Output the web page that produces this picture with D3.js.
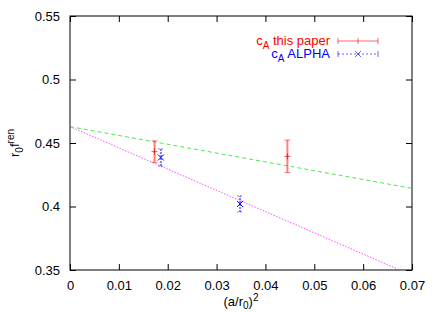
<!DOCTYPE html>
<html>
<head>
<meta charset="utf-8">
<script src="https://cdn.jsdelivr.net/npm/d3@7"></script>
<style>
  body { margin: 0; background: #fff; }
  svg { display: block; font-family: 'Liberation Sans', Arial, sans-serif; }
</style>
</head>
<body>
<div id="chart"></div>
<script>
// c_A this paper
const paperX = [0.0173, 0.0445];
const paperY = [0.4432, 0.4395];
const paperErr = [0.0085, 0.0128];

// c_A ALPHA
const alphaX = [0.0186, 0.0348];
const alphaY = [0.4386, 0.4020];
const alphaErr = [0.0068, 0.0063];

// fit lines (endpoints)
const fitPaperX = [0, 0.07];
const fitPaperY = [0.4629, 0.4143];
const fitAlphaX = [0, 0.0675];
const fitAlphaY = [0.4629, 0.35];

const xTicks = [0, 0.01, 0.02, 0.03, 0.04, 0.05, 0.06, 0.07];
const yTicks = [0.35, 0.4, 0.45, 0.5, 0.55];

const W = 436, H = 312;
const m = { left: 70, right: 24, top: 16, bottom: 42 };

const svg = d3.select('#chart').append('svg')
  .attr('width', W).attr('height', H);

const x = d3.scaleLinear().domain([0, 0.07]).range([m.left, W - m.right]);
const y = d3.scaleLinear().domain([0.35, 0.55]).range([H - m.bottom, m.top]);

svg.append('clipPath').attr('id', 'clip')
  .append('rect')
  .attr('x', m.left).attr('y', m.top)
  .attr('width', W - m.left - m.right).attr('height', H - m.top - m.bottom);

// axes with inward ticks, mirrored
const fmtX = d => d === 0 ? '0' : d3.format('.2f')(d);
const fmtY = d => d3.format('.2~f')(d);

function styleAxis(g) {
  g.select('.domain').remove();
  g.selectAll('line').attr('stroke', '#000');
  g.selectAll('text').attr('fill', '#000').style('font-size', '13px');
}

svg.append('g')
  .attr('transform', 'translate(0,' + (H - m.bottom) + ')')
  .call(d3.axisBottom(x).tickValues(xTicks).tickFormat(fmtX).tickSizeInner(-6).tickPadding(11))
  .call(styleAxis);
svg.append('g')
  .attr('transform', 'translate(0,' + m.top + ')')
  .call(d3.axisTop(x).tickValues(xTicks).tickFormat('').tickSizeInner(-6))
  .call(styleAxis);
svg.append('g')
  .attr('transform', 'translate(' + m.left + ',0)')
  .call(d3.axisLeft(y).tickValues(yTicks).tickFormat(fmtY).tickSizeInner(-6).tickPadding(10))
  .call(styleAxis);
svg.append('g')
  .attr('transform', 'translate(' + (W - m.right) + ',0)')
  .call(d3.axisRight(y).tickValues(yTicks).tickFormat('').tickSizeInner(-6))
  .call(styleAxis);

svg.append('rect')
  .attr('x', m.left).attr('y', m.top)
  .attr('width', W - m.left - m.right).attr('height', H - m.top - m.bottom)
  .attr('fill', 'none').attr('stroke', '#000');

// axis labels
const yl = svg.append('text')
  .attr('transform', 'translate(19,' + y(0.45) + ') rotate(-90)')
  .attr('text-anchor', 'middle').style('font-size', '13px');
yl.append('tspan').text('r');
yl.append('tspan').attr('dy', 4).style('font-size', '10px').text('0');
yl.append('tspan').attr('dy', -4).text('f');
yl.append('tspan').attr('dy', -5).style('font-size', '10px').text('ren');

const xl = svg.append('text')
  .attr('x', x(0.035)).attr('y', 306)
  .attr('text-anchor', 'middle').style('font-size', '13px');
xl.append('tspan').text('(a/r');
xl.append('tspan').attr('dy', 3).style('font-size', '10px').text('0');
xl.append('tspan').attr('dy', -3).text(')');
xl.append('tspan').attr('dy', -5).style('font-size', '10px').text('2');

const plot = svg.append('g').attr('clip-path', 'url(#clip)');
const line = d3.line().x(d => x(d[0])).y(d => y(d[1]));

plot.append('path')
  .attr('d', line(d3.zip(fitPaperX, fitPaperY)))
  .attr('fill', 'none').attr('stroke', '#00e000').attr('stroke-opacity', 0.7)
  .attr('stroke-dasharray', '4,3');
plot.append('path')
  .attr('d', line(d3.zip(fitAlphaX, fitAlphaY)))
  .attr('fill', 'none').attr('stroke', '#ff00ff').attr('stroke-opacity', 0.7)
  .attr('stroke-dasharray', '1.5,1.5');

// error bars
function errBars(xs, ys, es, color, dash, marker) {
  const data = d3.zip(xs, ys, es);
  const g = plot.append('g').attr('stroke', color).attr('fill', 'none');
  data.forEach(([px, py, pe]) => {
    const cx = x(px);
    g.append('line').attr('x1', cx).attr('x2', cx)
      .attr('y1', y(py - pe)).attr('y2', y(py + pe))
      .attr('stroke-opacity', 0.5).attr('stroke-width', 2)
      .attr('stroke-dasharray', dash);
    [py - pe, py + pe].forEach(v => {
      g.append('line').attr('x1', cx - 3).attr('x2', cx + 3)
        .attr('y1', y(v)).attr('y2', y(v))
        .attr('stroke-opacity', 0.5).attr('stroke-dasharray', dash);
    });
    const cy = y(py);
    if (marker === '+') {
      g.append('line').attr('x1', cx - 3).attr('x2', cx + 3).attr('y1', cy).attr('y2', cy)
        .attr('stroke-opacity', 0.7);
      g.append('line').attr('x1', cx).attr('x2', cx).attr('y1', cy - 3).attr('y2', cy + 3)
        .attr('stroke-opacity', 0.7);
    } else {
      g.append('line').attr('x1', cx - 3).attr('x2', cx + 3).attr('y1', cy - 3).attr('y2', cy + 3);
      g.append('line').attr('x1', cx - 3).attr('x2', cx + 3).attr('y1', cy + 3).attr('y2', cy - 3);
    }
  });
}
errBars(paperX, paperY, paperErr, '#ff0000', null, '+');
errBars(alphaX, alphaY, alphaErr, '#0000ff', '2,1', 'x');

// legend
const legend = [
  { label: 'this paper', color: '#ff0000', y: 45, dash: null, marker: '+' },
  { label: 'ALPHA', color: '#0000ff', y: 58, dash: '2,2', marker: 'x' }
];
legend.forEach(d => {
  const t = svg.append('text').attr('x', 330).attr('y', d.y)
    .attr('text-anchor', 'end').attr('fill', d.color).style('font-size', '13px');
  t.append('tspan').text('c');
  t.append('tspan').attr('dy', 4).style('font-size', '10px').text('A');
  t.append('tspan').attr('dy', -4).text(' ' + d.label);
  const ly = d.y - 4;
  const g = svg.append('g').attr('stroke', d.color).attr('stroke-opacity', 0.6);
  g.append('line').attr('x1', 338).attr('x2', 378).attr('y1', ly).attr('y2', ly)
    .attr('stroke-dasharray', d.dash);
  g.append('line').attr('x1', 338).attr('x2', 338).attr('y1', ly - 3).attr('y2', ly + 3);
  g.append('line').attr('x1', 378).attr('x2', 378).attr('y1', ly - 3).attr('y2', ly + 3);
  if (d.marker === '+') {
    g.append('line').attr('x1', 358).attr('x2', 358).attr('y1', ly - 3).attr('y2', ly + 3);
  } else {
    g.append('line').attr('x1', 355).attr('x2', 361).attr('y1', ly - 3).attr('y2', ly + 3);
    g.append('line').attr('x1', 355).attr('x2', 361).attr('y1', ly + 3).attr('y2', ly - 3);
  }
});
</script>
</body>
</html>
